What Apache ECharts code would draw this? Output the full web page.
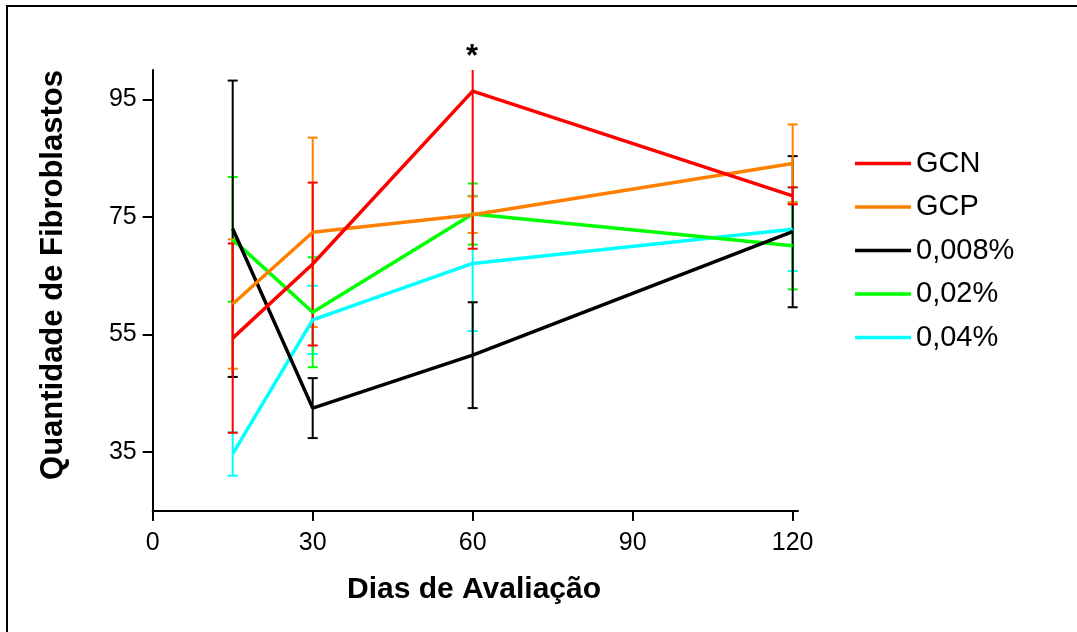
<!DOCTYPE html>
<html>
<head>
<meta charset="utf-8">
<script src="https://cdn.jsdelivr.net/npm/echarts@6/dist/echarts.min.js"></script>
<style>
html,body{margin:0;padding:0;background:#fff;}
#chart{width:1077px;height:632px;}
</style>
</head>
<body>
<div id="chart"></div>
<script>
// ---- data ----
var days = [15, 30, 60, 120];
var xTicks = [0, 30, 60, 90, 120];
var yTicks = [35, 55, 75, 95];
var names = ['GCN', 'GCP', '0,008%', '0,02%', '0,04%'];
var colors = ['#ff0000', '#ff8000', '#000000', '#00ff00', '#00ffff'];
var gcnMean = [54.4, 67.0, 96.4, 78.6];
var gcnErr  = [16.1, 13.85, 26.8, 1.45];
var gcpMean = [60.2, 72.4, 75.4, 84.1];
var gcpErr  = [11.0, 16.1, 3.1, 6.65];
var c008Mean = [73.0, 42.5, 51.5, 72.5];
var c008Err  = [25.2, 5.1, 9.0, 12.85];
var c02Mean = [71.2, 58.8, 75.5, 70.1];
var c02Err  = [10.6, 9.35, 5.2, 7.4];
var c04Mean = [34.7, 57.5, 67.1, 72.9];
var c04Err  = [3.7, 5.8, 11.5, 7.1];
var means = [gcnMean, gcpMean, c008Mean, c02Mean, c04Mean];
var errs = [gcnErr, gcpErr, c008Err, c02Err, c04Err];
var starLabel = '*';
var xTitle = 'Dias de Avaliação';
var yTitle = 'Quantidade de Fibroblastos';

var FONT = '"Liberation Sans", Arial, sans-serif';

function errRender(color) {
  return function (params, api) {
    var x = api.value(0), y = api.value(1), e = api.value(2);
    var top = api.coord([x, y + e]);
    var bot = api.coord([x, y - e]);
    var hw = 5;
    var st = { stroke: color, lineWidth: 2 };
    return {
      type: 'group',
      children: [
        { type: 'line', shape: { x1: top[0], y1: top[1], x2: bot[0], y2: bot[1] }, style: st },
        { type: 'line', shape: { x1: top[0] - hw, y1: top[1], x2: top[0] + hw, y2: top[1] }, style: st },
        { type: 'line', shape: { x1: bot[0] - hw, y1: bot[1], x2: bot[0] + hw, y2: bot[1] }, style: st }
      ]
    };
  };
}

var series = [];
// draw order: last legend item first so GCN is on top
for (var i = names.length - 1; i >= 0; i--) {
  var errData = days.map(function (d, k) { return [d, means[i][k], errs[i][k]]; });
  series.push({
    type: 'custom',
    name: names[i] + ' err',
    renderItem: errRender(colors[i]),
    data: errData,
    clip: true,
    silent: true,
    encode: { x: 0, y: 1 }
  });
  series.push({
    type: 'line',
    name: names[i],
    data: days.map(function (d, k) { return [d, means[i][k]]; }),
    showSymbol: false,
    symbol: 'none',
    color: colors[i],
    lineStyle: { color: colors[i], width: 3.5 },
    silent: true
  });
}

var chart = echarts.init(document.getElementById('chart'), null, { renderer: 'canvas' });
chart.setOption({
  animation: false,
  backgroundColor: '#ffffff',
  grid: { left: 152.7, right: 279, top: 70, bottom: 121 },
  legend: {
    data: names,
    orient: 'vertical',
    left: 855,
    top: 149,
    padding: 0,
    icon: 'rect',
    itemWidth: 56,
    itemHeight: 3.5,
    itemGap: 14.5,
    selectedMode: false,
    textStyle: { fontFamily: FONT, fontSize: 29, color: '#000', lineHeight: 28 }
  },
  xAxis: {
    type: 'value',
    min: 0,
    max: 121,
    axisLine: { show: true, lineStyle: { color: '#000', width: 2 } },
    axisTick: { show: true, length: 10, lineStyle: { color: '#000', width: 2 }, customValues: xTicks },
    axisLabel: { show: true, margin: 20, fontFamily: FONT, fontSize: 25, color: '#000', customValues: xTicks },
    splitLine: { show: false }
  },
  yAxis: {
    type: 'value',
    min: 25,
    max: 100,
    axisLine: { show: true, lineStyle: { color: '#000', width: 2 } },
    axisTick: { show: true, length: 10, lineStyle: { color: '#000', width: 2 }, customValues: yTicks },
    axisLabel: { show: true, margin: 16, fontFamily: FONT, fontSize: 25, color: '#000', customValues: yTicks },
    splitLine: { show: false }
  },
  graphic: [
    {
      type: 'rect', silent: true, z: 100,
      shape: { x: 7, y: 6, width: 1100, height: 700 },
      style: { fill: null, stroke: '#000', lineWidth: 2 }
    },
    {
      type: 'text', silent: true,
      x: 53, y: 275, rotation: Math.PI / 2,
      style: { text: yTitle, fontFamily: FONT, fontSize: 31, fontWeight: 'bold', fill: '#000', align: 'center', verticalAlign: 'middle' }
    },
    {
      type: 'text', silent: true,
      x: 474, y: 590,
      style: { text: xTitle, fontFamily: FONT, fontSize: 30, fontWeight: 'bold', fill: '#000', align: 'center', verticalAlign: 'middle' }
    },
    {
      type: 'text', silent: true,
      x: 472, y: 57,
      style: { text: starLabel, fontFamily: FONT, fontSize: 31, fontWeight: 'bold', fill: '#000', align: 'center', verticalAlign: 'middle' }
    }
  ],
  series: series
});
</script>
</body>
</html>
